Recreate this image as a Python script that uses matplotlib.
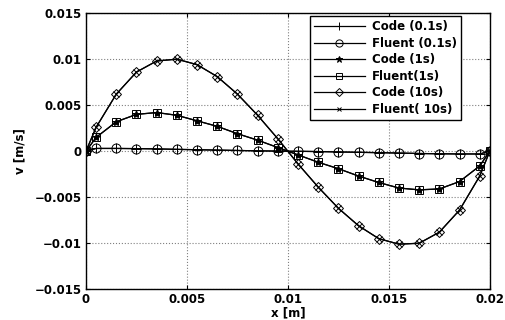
import numpy as np
import matplotlib
matplotlib.use('Agg')
from matplotlib import pyplot as plt

plt.rcParams['font.family'] = ['DejaVu Sans']
plt.rcParams['font.weight'] = 'bold'

# positions: walls + cell centres
x = [0, 0.0005, 0.0015, 0.0025, 0.0035, 0.0045, 0.0055, 0.0065, 0.0075, 0.0085, 0.0095,
     0.0105, 0.0115, 0.0125, 0.0135, 0.0145, 0.0155, 0.0165, 0.0175, 0.0185, 0.0195, 0.02]

v_01 = [0, 0.0003, 0.0003, 0.00028, 0.00025, 0.0002, 0.00016, 0.00012, 0.00008, 0.00004, 0.00001,
        -0.00001, -0.00004, -0.00008, -0.00012, -0.00016, -0.0002, -0.00025, -0.00028, -0.0003, -0.0003, 0]
v_1 = [0, 0.0015, 0.0032, 0.0040, 0.0042, 0.0039, 0.0033, 0.0027, 0.0019, 0.0012, 0.0004,
       -0.0004, -0.0012, -0.0019, -0.0027, -0.0034, -0.0040, -0.0042, -0.0041, -0.0033, -0.0016, 0]
v_10 = [0, 0.0026, 0.0062, 0.0086, 0.0098, 0.0100, 0.0094, 0.0081, 0.0062, 0.0039, 0.00135,
        -0.00138, -0.0039, -0.0062, -0.0081, -0.0095, -0.0101, -0.0100, -0.0088, -0.0064, -0.0027, 0]

fig = plt.figure(figsize=(5.06, 3.2), dpi=100)
ax = fig.add_axes([0.170, 0.096, 0.798, 0.863])

lw = 0.9
ax.plot(x, v_01, 'k-', marker='+', ms=6.5, mew=0.7, lw=lw, label='Code (0.1s)')
ax.plot(x, v_01, 'k-', marker='o', ms=6.5, mfc='none', mew=0.7, lw=lw, label='Fluent (0.1s)')
ax.plot(x, v_1, 'k-', marker='*', ms=6, mew=0.7, lw=lw, label='Code (1s)')
ax.plot(x, v_1, 'k-', marker='s', ms=5.5, mfc='none', mew=0.7, lw=lw, label='Fluent(1s)')
ax.plot(x, v_10, 'k-', marker='D', ms=5.5, mfc='none', mew=0.7, lw=lw, label='Code (10s)')
ax.plot(x, v_10, 'k-', marker='x', ms=4, mew=0.7, lw=lw, label='Fluent( 10s)')

ax.set_xlim(0, 0.02)
ax.set_ylim(-0.015, 0.015)
ax.set_xticks([0, 0.005, 0.01, 0.015, 0.02])
ax.set_xticklabels(['0', '0.005', '0.01', '0.015', '0.02'])
ax.set_yticks([-0.015, -0.01, -0.005, 0, 0.005, 0.01, 0.015])
ax.set_yticklabels(['\u22120.015', '\u22120.01', '\u22120.005', '0', '0.005', '0.01', '0.015'])
ax.tick_params(direction='in', labelsize=8.5, length=3, top=True, right=True, pad=3)
ax.grid(True, linestyle=':', color='0.5', lw=0.8)
ax.set_xlabel('x [m]', fontsize=8.5, fontweight='bold', labelpad=0)
ax.set_ylabel('v [m/s]', fontsize=8.5, fontweight='bold', labelpad=6)
for s in ax.spines.values():
    s.set_linewidth(1.0)

leg = ax.legend(loc='upper right', bbox_to_anchor=(0.928, 0.989), fontsize=8.5,
                fancybox=False, framealpha=1, edgecolor='k', handlelength=4.3,
                borderaxespad=0, labelspacing=0.3, borderpad=0.35, handletextpad=0.6,
                markerscale=0.8)
leg.get_frame().set_linewidth(1.0)

fig.savefig('out.png', dpi=100)
